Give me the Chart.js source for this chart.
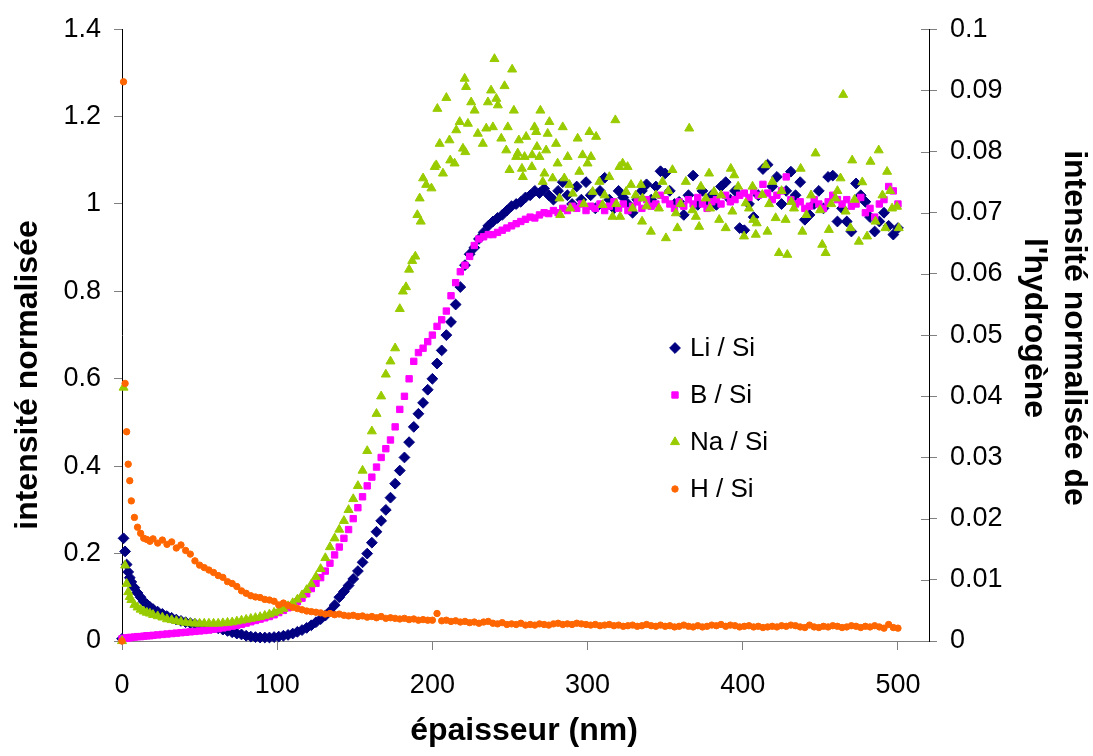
<!DOCTYPE html>
<html>
<head>
<meta charset="utf-8">
<script src="https://cdn.jsdelivr.net/npm/chart.js@4.4.1/dist/chart.umd.min.js"></script>
<style>
  body { margin: 0; background: #fff; }
</style>
</head>
<body>
<canvas id="myChart" width="1093" height="756"></canvas>
<script>
// EPAISSEUR (nm) COMMUNE A Li, B ET H
const epaisseur = [
  0, 1, 2, 3, 4, 5, 6, 8, 10, 12,
  14, 16, 18, 20, 23, 26, 29, 32, 35, 38,
  41, 44, 47, 50, 53, 56, 59, 62, 65, 68,
  71, 74, 77, 80, 83, 86, 89, 92, 95, 98,
  101, 104, 107, 110, 113, 116, 119, 122, 125, 128,
  131, 134, 137, 140, 143, 146, 149, 152, 155, 158,
  161, 164, 167, 170, 173, 176, 179, 182, 185, 188,
  191, 194, 197, 200, 203, 206, 209, 212, 215, 218,
  221, 224, 227, 230, 233, 236, 239, 242, 245, 248,
  251, 254, 257, 260, 263, 266, 269, 272, 275, 278,
  281, 284, 287, 290, 293, 296, 299, 302, 305, 308,
  311, 314, 317, 320, 323, 326, 329, 332, 335, 338,
  341, 344, 347, 350, 353, 356, 359, 362, 365, 368,
  371, 374, 377, 380, 383, 386, 389, 392, 395, 398,
  401, 404, 407, 410, 413, 416, 419, 422, 425, 428,
  431, 434, 437, 440, 443, 446, 449, 452, 455, 458,
  461, 464, 467, 470, 473, 476, 479, 482, 485, 488,
  491, 494, 497, 500
];

// Li / Si (axe de gauche)
const liSi = [
  0.005, 0.235, 0.205, 0.175, 0.158, 0.145, 0.135, 0.122, 0.11, 0.1,
  0.09, 0.084, 0.078, 0.073, 0.067, 0.062, 0.057, 0.053, 0.049, 0.046,
  0.043, 0.041, 0.039, 0.037, 0.035, 0.033, 0.031, 0.029, 0.026, 0.023,
  0.02, 0.017, 0.015, 0.012, 0.01, 0.009, 0.008, 0.008, 0.008, 0.009,
  0.01, 0.012, 0.014, 0.017, 0.021, 0.025, 0.03, 0.036, 0.043, 0.05,
  0.058, 0.068, 0.082, 0.1, 0.113, 0.127, 0.142, 0.16, 0.18, 0.2,
  0.225, 0.25, 0.275, 0.3, 0.328, 0.36, 0.39, 0.42, 0.455, 0.49,
  0.52, 0.545, 0.575, 0.6, 0.635, 0.665, 0.7, 0.73, 0.77, 0.81,
  0.86, 0.885, 0.9, 0.92, 0.935, 0.95, 0.96, 0.968, 0.975, 0.985,
  0.995, 1.0, 1.005, 1.015, 1.02, 1.03, 1.025, 1.035, 1.02, 1.01,
  1.03, 1.05, 1.02, 1.0, 1.04, 1.01, 1.05, 1.02, 0.99, 1.03,
  1.06, 1.01, 0.99, 1.03, 1.015, 1.0, 0.98, 1.01, 1.03, 1.045,
  1.01, 1.04, 1.075, 1.07, 1.03, 1.0, 1.005, 0.975, 1.02, 1.065,
  0.998, 1.03, 1.0, 1.02, 0.998, 1.04, 1.05, 1.01, 1.03, 0.945,
  0.94, 1.0, 0.97, 1.02, 1.08, 1.09, 1.04, 1.062, 1.0, 1.03,
  1.074, 1.02, 1.05, 0.964, 0.975, 1.0, 1.03, 0.99, 1.062, 1.065,
  0.96, 0.99, 0.96, 0.937, 1.047, 1.02, 1.005, 0.97, 0.937, 0.96,
  0.98, 0.95, 0.93, 0.945
];

// B / Si (axe de gauche)
const bSi = [
  0.005, 0.006, 0.006, 0.007, 0.007, 0.008, 0.008, 0.009, 0.01, 0.01,
  0.011, 0.012, 0.012, 0.013, 0.014, 0.015, 0.016, 0.017, 0.018, 0.019,
  0.02, 0.021, 0.022, 0.023, 0.024, 0.025, 0.027, 0.028, 0.03, 0.032,
  0.034, 0.036, 0.038, 0.041, 0.044, 0.047, 0.05, 0.053, 0.056, 0.06,
  0.065, 0.07, 0.076, 0.082, 0.09, 0.098, 0.108, 0.12, 0.132, 0.145,
  0.16, 0.178, 0.197, 0.215, 0.235, 0.255, 0.28, 0.305, 0.33, 0.355,
  0.375, 0.398, 0.42, 0.44, 0.46, 0.49, 0.53, 0.56, 0.6, 0.64,
  0.66, 0.67, 0.685, 0.7, 0.72, 0.735, 0.755, 0.79, 0.82, 0.845,
  0.86, 0.88, 0.905, 0.92, 0.925, 0.93, 0.93, 0.935, 0.94, 0.945,
  0.95, 0.955, 0.96, 0.965, 0.97, 0.968, 0.975, 0.98, 0.978, 0.985,
  0.98, 0.99, 0.985, 0.995, 0.99, 1.0, 0.985, 0.995, 0.99, 1.0,
  0.985, 0.995, 1.005, 0.99, 1.0, 0.985, 0.995, 1.005, 0.99, 1.01,
  0.995, 1.0, 1.02, 1.01, 1.0, 0.99, 1.005, 0.995, 1.01, 1.0,
  1.015, 1.0, 0.99, 1.005, 1.01, 1.0, 1.02, 1.005, 1.01, 1.02,
  1.025, 1.015, 1.03, 1.02, 1.045, 1.025, 1.01, 1.02, 1.03, 1.062,
  1.01, 1.0, 1.005, 0.99, 0.995, 1.01, 1.0, 0.99, 1.005, 1.02,
  1.01, 1.0, 1.01, 0.995, 1.0, 1.015, 0.98, 0.99, 0.97, 1.0,
  1.01, 1.04, 1.03, 1.0
];

// H / Si (axe de droite)
const hSi = [
  0, 0.0914, 0.0421, 0.0342, 0.0289, 0.0262, 0.0229, 0.0202, 0.0186, 0.0176,
  0.0168, 0.0166, 0.0163, 0.0167, 0.016, 0.0165, 0.0158, 0.0162, 0.0152, 0.0157,
  0.0148, 0.0142, 0.0131, 0.0124, 0.012, 0.0116, 0.0112, 0.0107, 0.0104, 0.0097,
  0.0094, 0.0089, 0.0082, 0.0078, 0.0074, 0.0072, 0.0071, 0.0068, 0.0067, 0.0065,
  0.0059, 0.0062, 0.0058, 0.0055, 0.0053, 0.0051, 0.0049, 0.0048, 0.0047, 0.0046,
  0.0044, 0.0045, 0.0043, 0.0044, 0.0042, 0.0041, 0.0042, 0.004, 0.0041, 0.0039,
  0.004, 0.0038, 0.004, 0.0037, 0.0038, 0.0037, 0.0036, 0.0037, 0.0035, 0.0036,
  0.0034, 0.0035, 0.0034, 0.0034, 0.0045, 0.0033, 0.0034, 0.0032, 0.0033, 0.0031,
  0.0032, 0.003, 0.0031, 0.0029, 0.0031, 0.0032, 0.0029, 0.0028, 0.003, 0.0027,
  0.0028, 0.0027, 0.0029, 0.0026, 0.0027, 0.0026, 0.0028, 0.0027, 0.0026, 0.0028,
  0.0029, 0.0027, 0.0028, 0.0027, 0.0029, 0.0028, 0.0027, 0.0026, 0.0027, 0.0025,
  0.0026, 0.0027, 0.0025, 0.0026, 0.0024, 0.0025, 0.0026, 0.0024, 0.0025, 0.0027,
  0.0025, 0.0024, 0.0026, 0.0024, 0.0025, 0.0023, 0.0024, 0.0026, 0.0024, 0.0023,
  0.0025, 0.0023, 0.0024, 0.0026, 0.0025, 0.0027, 0.0024, 0.0026, 0.0025, 0.0023,
  0.0024, 0.0025, 0.0023, 0.0024, 0.0022, 0.0023, 0.0024, 0.0023, 0.0025, 0.0024,
  0.0026, 0.0025, 0.0023, 0.0022, 0.0026, 0.0023, 0.0022, 0.0024, 0.0023, 0.0025,
  0.0024, 0.0022, 0.0023, 0.0025, 0.0024, 0.0022, 0.0024, 0.0023, 0.0025, 0.0023,
  0.0021, 0.0027, 0.0022, 0.0021
];

// Na / Si : ses propres abscisses (nuage plus disperse)
const naEpaisseur = [
  0, 1, 2, 3, 4, 5, 6, 8, 10, 12,
  14, 16, 18, 20, 23, 26, 29, 32, 35, 38,
  41, 44, 47, 50, 53, 56, 59, 62, 65, 68,
  71, 74, 77, 80, 83, 86, 89, 92, 95, 98,
  101, 104, 107, 110, 113, 116, 119, 122, 125, 128,
  131, 134, 137, 140, 143, 146, 149, 152, 155, 158,
  161, 164, 167, 170, 173, 176, 179, 181, 183, 185,
  187, 189, 190.3, 191.8, 192.5, 194, 196, 199.4, 201.5, 202.5,
  203.2, 204.7, 206.8, 209, 211, 211.5, 214.3, 215.4, 217.6, 219.7,
  220.8, 221.2, 221.7, 222.9, 225, 227.2, 229.3, 232.5, 234.7, 235.8,
  237.8, 239, 240, 241.2, 242.2, 244.4, 246.5, 247.6, 248.6, 249.7,
  251.4, 252.5, 254, 255, 255.7, 257.7, 258.3, 259.4, 260.4, 264.1,
  264.3, 265.8, 266.9, 267.4, 269, 269.6, 271.1, 272.2, 273.3, 274.3,
  275.4, 277.5, 279.7, 280.7, 281.9, 282.4, 284, 285, 287.2, 288.3,
  288.8, 290.4, 293.6, 294.7, 296.8, 297.5, 300, 301.2, 302.2, 303.3,
  305.5, 307.6, 309.7, 311, 314, 316.1, 317.9, 318.5, 320.5, 321,
  322.6, 324.8, 325.8, 328, 329, 331, 334.4, 335.1, 335.4, 338,
  340.8, 344, 346, 348.3, 350.5, 352, 354.7, 356.9, 357.9, 360,
  363.3, 365.5, 367.6, 369.8, 371.9, 373, 376.2, 378.3, 379, 381.5,
  384.8, 386, 389, 392.3, 393.3, 394.5, 397, 400.8, 401.9, 404,
  406.3, 406.8, 408.4, 409, 412.6, 414.8, 415.9, 417, 419.1, 421.2,
  423.3, 425, 427.6, 428.7, 431.3, 433, 437.3, 438.4, 441, 444,
  446.9, 449.8, 451.2, 453.4, 455.5, 457, 459.8, 461, 463, 464.7,
  466.3, 469.4, 470.5, 472, 474.8, 477, 480.1, 482.3, 485.5, 487.6,
  490, 491.9, 493, 495, 496.2, 499.4, 500.5
];
const naSi = [
  0, 0.58, 0.173, 0.131, 0.112, 0.101, 0.094, 0.083, 0.077, 0.072,
  0.068, 0.065, 0.063, 0.06, 0.057, 0.054, 0.05, 0.048, 0.046, 0.044,
  0.042, 0.041, 0.04, 0.04, 0.04, 0.04, 0.04, 0.04, 0.041, 0.042,
  0.043, 0.045, 0.047, 0.049, 0.051, 0.053, 0.055, 0.058, 0.061, 0.065,
  0.069, 0.074, 0.08, 0.087, 0.095, 0.105, 0.117, 0.13, 0.147, 0.165,
  0.19, 0.215, 0.235, 0.255, 0.275, 0.3, 0.325, 0.355, 0.39, 0.435,
  0.48, 0.52, 0.56, 0.61, 0.64, 0.67, 0.76, 0.8, 0.81, 0.85,
  0.87, 0.88, 0.975, 1.013, 0.96, 1.059, 1.044, 1.036, 1.085, 1.089,
  1.218, 1.138, 1.07, 1.243, 1.146, 1.1, 1.093, 1.169, 1.188, 1.127,
  1.287, 1.119, 1.268, 1.184, 1.233, 1.214, 1.161, 1.138, 1.173, 1.233,
  1.26, 1.176, 1.332, 1.241, 1.226, 1.15, 1.27, 1.123, 1.176, 1.078,
  1.308, 1.214, 1.108, 1.116, 1.146, 1.081, 1.062, 1.108, 1.154, 1.085,
  1.112, 1.176, 1.165, 1.131, 1.108, 1.214, 1.051, 1.07, 1.123, 1.161,
  1.188, 1.059, 1.138, 1.093, 1.013, 0.975, 1.176, 1.059, 1.108, 1.044,
  0.99, 1.024, 1.15, 1.074, 1.112, 1.0, 1.093, 1.165, 1.108, 1.028,
  1.154, 1.051, 0.998, 1.02, 1.062, 0.971, 1.192, 1.0, 1.085, 0.971,
  1.093, 1.028, 1.085, 1.044, 0.99, 1.02, 1.044, 0.96, 1.013, 0.995,
  0.937, 1.02, 0.99, 1.051, 0.922, 1.03, 1.078, 0.979, 0.945, 1.0,
  1.051, 1.173, 0.986, 0.971, 0.948, 1.04, 1.013, 1.07, 0.99, 1.028,
  0.964, 1.02, 0.945, 1.081, 0.983, 1.066, 1.04, 0.926, 1.002, 0.99,
  1.04, 0.964, 0.93, 0.956, 1.021, 1.089, 0.937, 1.0, 1.051, 0.968,
  0.888, 1.03, 0.964, 0.884, 1.005, 0.99, 1.081, 0.937, 0.975, 1.02,
  1.116, 0.986, 0.907, 0.888, 0.941, 1.0, 1.013, 1.03, 1.059, 1.25,
  0.983, 0.945, 1.1, 1.01, 0.914, 1.05, 0.926, 1.097, 0.96, 1.123,
  1.02, 0.945, 1.074, 1.03, 0.99, 0.994, 0.945
];

// GRADUATIONS
const ticksX = [0, 100, 200, 300, 400, 500];
const ticksGauche = [0, 0.2, 0.4, 0.6, 0.8, 1, 1.2, 1.4];
const ticksDroite = [0, 0.01, 0.02, 0.03, 0.04, 0.05, 0.06, 0.07, 0.08, 0.09, 0.1];

const POLICE = "'Liberation Sans', Arial, sans-serif";

function points(xs, ys) {
  return xs.map((x, i) => ({ x: x, y: ys[i] }));
}

// TITRES DES AXES (dessines a la main pour les placer comme l'original)
const titres = {
  id: "titres",
  afterDraw(chart) {
    const ctx = chart.ctx;
    ctx.save();
    ctx.fillStyle = "#000";
    ctx.font = "bold 32px " + POLICE;
    ctx.textAlign = "center";
    ctx.textBaseline = "alphabetic";
    ctx.fillText("épaisseur (nm)", 524, 740);

    ctx.save();
    ctx.translate(37, 375);
    ctx.rotate(-Math.PI / 2);
    ctx.fillText("intensité normalisée", 0, 0);
    ctx.restore();

    ctx.save();
    ctx.translate(1065, 328);
    ctx.rotate(Math.PI / 2);
    ctx.fillText("intensité normalisée de", 0, 0);
    ctx.restore();

    ctx.save();
    ctx.translate(1025, 328);
    ctx.rotate(Math.PI / 2);
    ctx.fillText("l'hydrogène", 0, 0);
    ctx.restore();

    // petites marques cote interieur de l'axe de droite
    const y1 = chart.scales.y1;
    ctx.strokeStyle = "#808080";
    ctx.lineWidth = 1;
    ticksDroite.forEach(v => {
      const py = Math.round(y1.getPixelForValue(v)) + 0.5;
      ctx.beginPath();
      ctx.moveTo(y1.left - 8, py);
      ctx.lineTo(y1.left, py);
      ctx.stroke();
    });
    ctx.restore();
  }
};

// LEGENDE DANS LA ZONE DU GRAPHIQUE
const legende = {
  id: "legende",
  afterDraw(chart) {
    const ctx = chart.ctx;
    ctx.save();
    ctx.font = "26px " + POLICE;
    ctx.textBaseline = "alphabetic";
    ctx.textAlign = "left";
    chart.data.datasets.forEach((ds, i) => {
      const y = 348 + i * 47;
      ctx.fillStyle = ds.backgroundColor;
      ctx.strokeStyle = ds.borderColor;
      ctx.lineWidth = 1;
      Chart.helpers.drawPoint(ctx, {
        pointStyle: ds.pointStyle,
        radius: ds.pointRadius,
        borderWidth: 1,
        rotation: 0
      }, 675, y);
      ctx.fillStyle = "#000";
      ctx.fillText(ds.label, 690, y + 8);
    });
    ctx.restore();
  }
};

function axeY(min, max, liste, position, largeur, bordure) {
  return {
    type: "linear",
    position: position,
    min: min,
    max: max,
    afterBuildTicks: s => { s.ticks = liste.map(v => ({ value: v })); },
    afterFit: s => { s.width = largeur; },
    ticks: {
      font: { size: 27, family: POLICE },
      color: "#000",
      padding: 13,
      callback: v => String(v)
    },
    grid: { drawOnChartArea: false, drawTicks: true, tickLength: 8, tickColor: "#808080" },
    border: { display: true, color: bordure, width: 1 }
  };
}

var ctx = document.getElementById("myChart").getContext("2d");
var myChart = new Chart(ctx, {
  type: "scatter",
  data: {
    datasets: [
      {
        label: "Li / Si",
        data: points(epaisseur, liSi),
        yAxisID: "y",
        pointStyle: "rectRot",
        pointRadius: 5.4,
        backgroundColor: "#000080",
        borderColor: "#000080",
        borderWidth: 1,
        order: 4,
        clip: false
      },
      {
        label: "B / Si",
        data: points(epaisseur, bSi),
        yAxisID: "y",
        pointStyle: "rect",
        pointRadius: 4.5,
        backgroundColor: "#ff00ff",
        borderColor: "#ff00ff",
        borderWidth: 1,
        order: 3,
        clip: false
      },
      {
        label: "Na / Si",
        data: points(naEpaisseur, naSi),
        yAxisID: "y",
        pointStyle: "triangle",
        pointRadius: 5.2,
        backgroundColor: "#99cc00",
        borderColor: "#99cc00",
        borderWidth: 1,
        order: 2,
        clip: false
      },
      {
        label: "H / Si",
        data: points(epaisseur, hSi),
        yAxisID: "y1",
        pointStyle: "circle",
        pointRadius: 3.2,
        backgroundColor: "#ff6600",
        borderColor: "#ff6600",
        borderWidth: 1,
        order: 1,
        clip: false
      }
    ]
  },
  options: {
    responsive: false,
    animation: false,
    layout: { padding: { top: 25, left: 0, right: 0, bottom: 0 } },
    plugins: {
      legend: { display: false },
      tooltip: { enabled: false }
    },
    scales: {
      x: {
        type: "linear",
        min: 0,
        max: 520,
        afterBuildTicks: s => { s.ticks = ticksX.map(v => ({ value: v })); },
        afterFit: s => { s.height = 115; },
        ticks: {
          font: { size: 27, family: POLICE },
          color: "#000",
          padding: 19,
          maxRotation: 0,
          callback: v => String(v)
        },
        grid: { drawOnChartArea: false, drawTicks: true, tickLength: 9, tickColor: "#808080" },
        border: { display: true, color: "#808080", width: 1 }
      },
      y: axeY(0, 1.4, ticksGauche, "left", 122, "#000"),
      y1: axeY(0, 0.1, ticksDroite, "right", 164, "#000")
    }
  },
  plugins: [titres, legende]
});
</script>
</body>
</html>
